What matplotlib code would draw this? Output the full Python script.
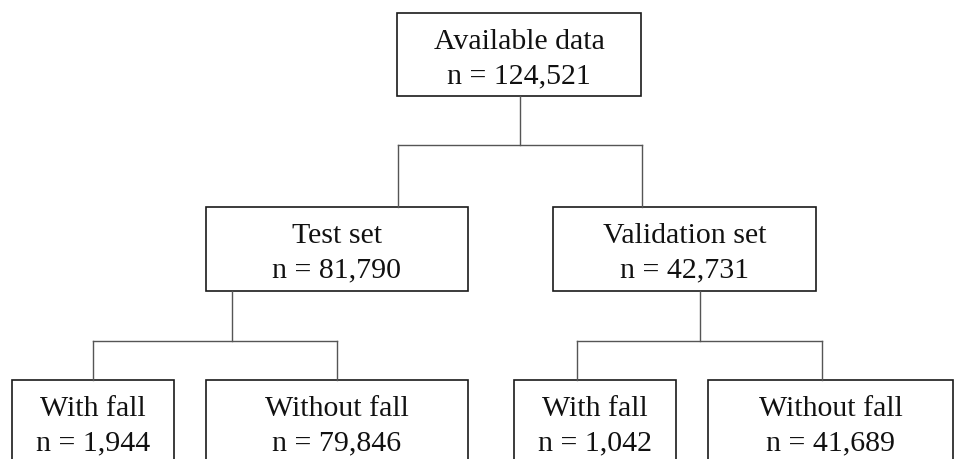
import matplotlib
matplotlib.use("Agg")
import matplotlib.pyplot as plt
from matplotlib.patches import Rectangle

# ---- data ----
labels = ["Available data", "Test set", "Validation set",
          "With fall", "Without fall", "With fall", "Without fall"]
counts = [124521, 81790, 42731, 1944, 79846, 1042, 41689]
# parent index for each node (-1 = root)
parents = [-1, 0, 0, 1, 1, 2, 2]

# ---- layout (pixels) ----
boxes = [
    (397, 641, 14, 97),
    (206, 468, 208, 292),
    (553, 816, 208, 292),
    (12, 174, 381, 475),
    (206, 468, 381, 475),
    (514, 676, 381, 475),
    (708, 953, 381, 475),
]
# connector x-positions at top of each child box
child_x = [None, 398, 642, 93, 337, 577, 822]
# vertical drop x from each parent, and y of horizontal bus
drop_x = {0: 520, 1: 232, 2: 700}
bus_y = {0: 146, 1: 342, 2: 342}

W, H = 956, 460
fig = plt.figure(figsize=(W / 100, H / 100), dpi=100)
ax = fig.add_axes([0, 0, 1, 1])
ax.set_xlim(0, W)
ax.set_ylim(H, 0)
ax.axis("off")

line_col = "#555555"
edge_col = "#1a1a1a"

# connectors
for p in drop_x:
    kids = [i for i, q in enumerate(parents) if q == p]
    y_bottom = boxes[p][3]
    ax.plot([drop_x[p], drop_x[p]], [y_bottom, bus_y[p]], color=line_col, lw=1.0)
    xs = [child_x[k] for k in kids]
    ax.plot([min(xs), max(xs)], [bus_y[p], bus_y[p]], color=line_col, lw=1.0)
    for k in kids:
        ax.plot([child_x[k], child_x[k]], [bus_y[p], boxes[k][2]], color=line_col, lw=1.0)

# boxes + text
for (x0, x1, y0, y1), lab, n in zip(boxes, labels, counts):
    ax.add_patch(Rectangle((x0, y0), x1 - x0, y1 - y0, fill=True,
                           facecolor="white", edgecolor=edge_col, lw=1.2, clip_on=False))
    cx = (x0 + x1) / 2
    ax.text(cx, y0 + 35, lab, ha="center", va="baseline",
            fontsize=21.5, family="Liberation Serif", color="#111111")
    ax.text(cx, y0 + 69, f"n = {n:,}", ha="center", va="baseline",
            fontsize=21.5, family="Liberation Serif", color="#111111")

fig.savefig("out.png", dpi=100, facecolor="white")
